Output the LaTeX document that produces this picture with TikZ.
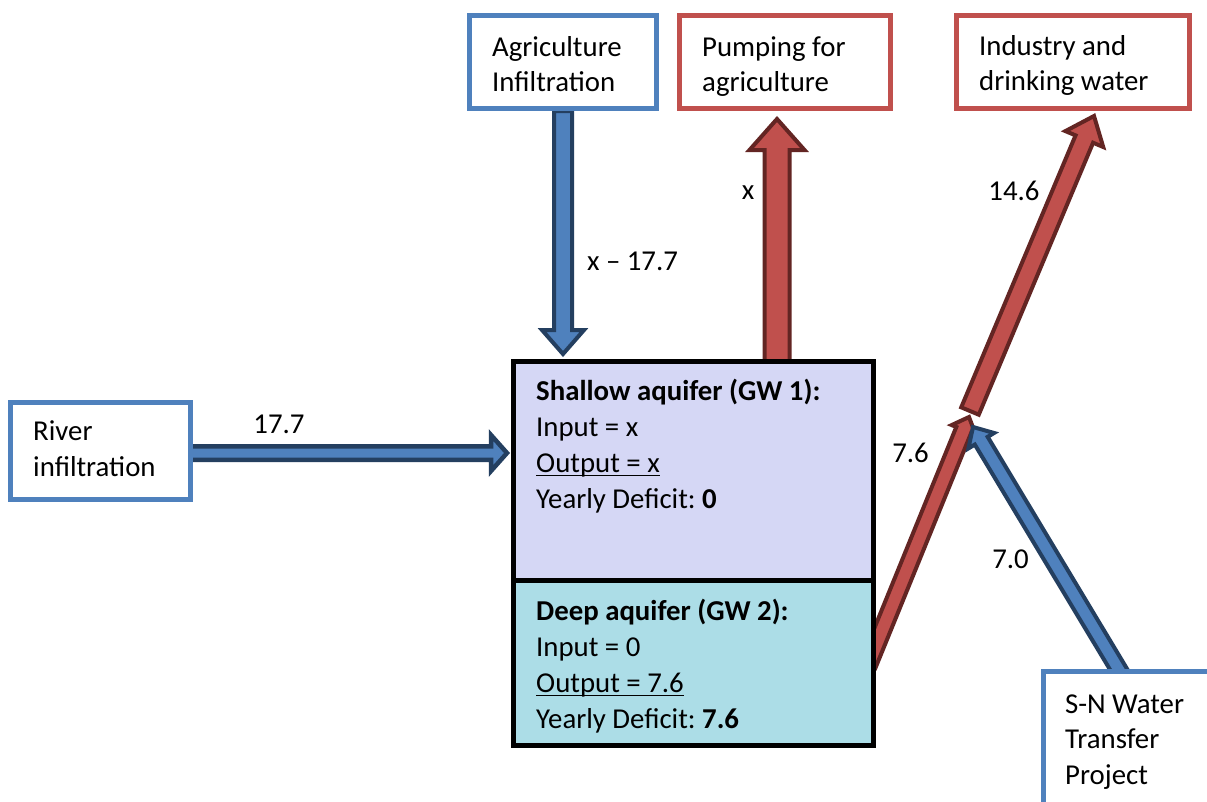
\documentclass[tikz,border=0pt]{standalone}
\usepackage{fontspec}
\setmainfont{Carlito}
\usetikzlibrary{calc}
\definecolor{bbord}{HTML}{4F81BD}
\definecolor{rbord}{HTML}{C0504D}
\definecolor{bdark}{HTML}{243F60}
\definecolor{rdark}{HTML}{632523}
\definecolor{shallowfill}{HTML}{D5D7F5}
\definecolor{deepfill}{HTML}{ACDDE7}
\frenchspacing
\pgfdeclarelayer{paper}
\pgfdeclarelayer{bg}
\pgfsetlayers{paper,bg,main}
\newcommand{\blockarrow}[6]{% tail, tip, shaft half width, head half width, head length, style
  \coordinate (ba-neck) at ($(#2)!#5!(#1)$);
  \filldraw[#6] ($(#1)!#3!90:(#2)$) -- ($(ba-neck)!#3!90:(#2)$) -- ($(ba-neck)!#4!90:(#2)$) -- (#2)
    -- ($(ba-neck)!#4!-90:(#2)$) -- ($(ba-neck)!#3!-90:(#2)$) -- ($(#1)!#3!-90:(#2)$) -- cycle;
}
\newcommand{\wordul}[1]{\setbox0\hbox{#1}\rlap{\rule[-4pt]{\wd0}{1.8pt}}\box0}
\tikzset{
  box/.style={draw, line width=5pt, fill=white, inner sep=0pt},
  bluebox/.style={box, draw=bbord},
  redbox/.style={box, draw=rbord},
  aquifer/.style={draw=black, line width=5pt, inner sep=0pt, minimum width=360pt},
  txt/.style={inner sep=0pt, anchor=north west, align=left, font=\fontsize{28.8}{35.7}\selectfont},
  lbl/.style={inner sep=0pt, anchor=base, font=\fontsize{28.8}{35.7}\selectfont},
  bluearrow/.style={fill=bbord, draw=bdark, line width=4pt, line join=miter},
  redarrow/.style={fill=rbord, draw=rdark, line width=4pt, line join=miter},
}
\begin{document}
\begin{tikzpicture}[x=1pt, y=-1pt]
\useasboundingbox (0,0) rectangle (1207,801);
\clip (0,0) rectangle (1207,801);
\begin{pgfonlayer}{paper}
\fill[white] (0,0) rectangle (1207,801);
\end{pgfonlayer}

% boxes
\node[bluebox, minimum width=187pt, minimum height=93pt] (agri) at (563,62) {};
\node[redbox, minimum width=211pt, minimum height=93pt] (pump) at (785,62) {};
\node[redbox, minimum width=233pt, minimum height=93pt] (ind) at (1073,62) {};
\node[bluebox, minimum width=180pt, minimum height=97pt] (river) at (100.5,451) {};
\node[bluebox, minimum width=200pt, minimum height=200pt] (sn) at (1143.5,771.5) {};
\node[aquifer, fill=shallowfill, minimum height=218.5pt] (shallow) at (693.5,470.75) {};
\node[aquifer, fill=deepfill, minimum height=165.5pt] (deep) at (693.5,662.75) {};

% box texts
\node[txt] (agritxt) at (492,31) {\strut Agriculture\\Infiltration};
\node[txt] (pumptxt) at (702,31) {\strut Pumping for\\agriculture};
\node[txt] (indtxt) at (979,30) {\strut Industry and\\drinking water};
\node[txt] (rivertxt) at (33,415.7) {\strut River\\infiltration};
\node[txt] (sntxt) at (1065,688) {\strut S-N Water\\Transfer\\Project};
\node[txt] (shallowtxt) at (536,375.7) {\strut\textbf{Shallow aquifer (GW 1):}\\Input = x\\\wordul{Output = x}\\Yearly Deficit: \textbf{0}};
\node[txt] (deeptxt) at (536,595.7) {\strut\textbf{Deep aquifer (GW 2):}\\Input = 0\\\wordul{Output = 7.6}\\Yearly Deficit: \textbf{7.6}};

% connector end points
\coordinate (agriIn) at (563,354);
\coordinate (pumpFrom) at (777,361.5);
\coordinate (pumpTo) at (777,119);
\coordinate (riverFrom) at (190.5,453);
\coordinate (riverTo) at (507,453);
\coordinate (deepFrom) at (868,665);
\coordinate (deepTo) at (969,417);
\coordinate (snFrom) at (1122,675);
\coordinate (snTo) at (973,427);
\coordinate (indFrom) at (970,411);
\coordinate (indTo) at (1094,116);

\begin{pgfonlayer}{bg}
\blockarrow{agri.south}{agriIn}{9pt}{21pt}{24pt}{bluearrow}
\blockarrow{pumpFrom}{pumpTo}{12.5pt}{27.5pt}{31pt}{redarrow}
\blockarrow{riverFrom}{riverTo}{6.75pt}{18pt}{16pt}{bluearrow, line width=4.5pt}
\blockarrow{deepFrom}{deepTo}{8pt}{13pt}{14pt}{redarrow}
\blockarrow{snFrom}{snTo}{7.5pt}{15pt}{16pt}{bluearrow}
\blockarrow{indFrom}{indTo}{9.5pt}{20.5pt}{25pt}{redarrow}
\end{pgfonlayer}

% labels
\node[lbl] (l177) at (279,433) {17.7};
\node[lbl] (lagri) at (632.5,270) {x – 17.7};
\node[lbl] (lpump) at (748,199) {x};
\node[lbl] (lind) at (1014,200) {14.6};
\node[lbl] (ldeep) at (910.5,462) {7.6};
\node[lbl] (lsn) at (1010.5,568) {7.0};
\end{tikzpicture}
\end{document}
